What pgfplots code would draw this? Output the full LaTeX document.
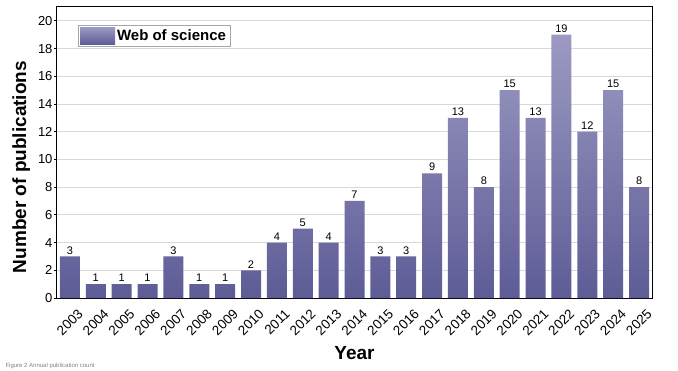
\documentclass[border=0pt]{standalone}
\usepackage{pgfplots}
\pgfplotsset{compat=1.18}
\usepackage{fontspec}
\setmainfont{Liberation Sans}
\definecolor{bartop}{RGB}{156,154,194}
\definecolor{barbot}{RGB}{94,92,150}
\begin{document}
\begin{tikzpicture}[x=1pt,y=1pt]
\path[use as bounding box] (0,0) rectangle (678,370);
\begin{axis}[
  at={(57pt,72pt)}, anchor=south west,
  scale only axis, width=595pt, height=291pt,
  ybar, bar width=20pt,
  xmin=-0.5, xmax=22.5, ymin=0, ymax=21,
  xtick=data,
  xticklabels={2003,2004,2005,2006,2007,2008,2009,2010,2011,2012,2013,2014,2015,2016,2017,2018,2019,2020,2021,2022,2023,2024,2025},
  xticklabel style={rotate=45, anchor=north east, font=\fontsize{13.5}{13.5}\selectfont, inner sep=1pt, xshift=-1pt, yshift=-11pt},
  ytick={0,2,...,20},
  yticklabel style={font=\fontsize{13}{13}\selectfont, xshift=-1pt},
  /pgf/number format/assume math mode=true,
  xtick pos=bottom, ytick pos=left,
  tick align=inside, major tick length=3pt,
  ytick style={xshift=-3pt, black, thick},
  xtick style={black, thick},
  ymajorgrids, major grid style={gray!30, line width=0.8pt},
  axis line style={black, line width=1pt},
  xlabel={\textbf{Year}},
  xlabel style={font=\fontsize{19}{19}\selectfont, at={(axis description cs:0.5,-0.19)}, anchor=center},
  ylabel={\textbf{Number of publications}},
  ylabel style={font=\fontsize{19}{19}\selectfont, at={(axis description cs:-0.06,0.45)}, anchor=center},
  nodes near coords,
  nodes near coords style={font=\fontsize{11}{11}\selectfont, black, inner sep=2pt},
  legend style={at={(0.035,0.938)}, anchor=north west, draw=gray!70, font=\fontsize{15}{15}\selectfont\bfseries, inner sep=2pt, row sep=0pt},
  legend image code/.code={\shade[top color=bartop, bottom color=barbot] (0pt,-8.5pt) rectangle (35pt,8.5pt);},
]
\addplot[draw=none, top color=bartop, bottom color=barbot] coordinates {
(0,3) (1,1) (2,1) (3,1) (4,3) (5,1) (6,1) (7,2) (8,4) (9,5) (10,4) (11,7)
(12,3) (13,3) (14,9) (15,13) (16,8) (17,15) (18,13) (19,19) (20,12) (21,15) (22,8)};
\addlegendentry{Web of science}
\end{axis}
\node[anchor=south west, font=\fontsize{6}{6}\selectfont, text=gray] at (2,-2) {Figure 2 Annual publication count};
\end{tikzpicture}
\end{document}
